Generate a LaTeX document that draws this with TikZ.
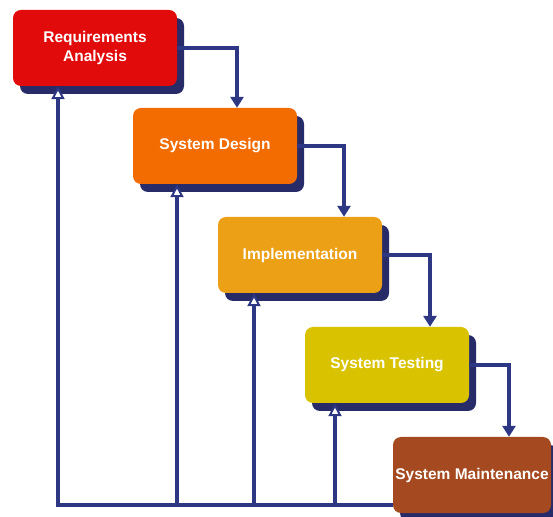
\documentclass[tikz,border=0pt]{standalone}
\usepackage{fontspec}
\setmainfont{Liberation Sans}
\usepackage{tikz}
\usetikzlibrary{arrows.meta, shadows, calc}
\definecolor{linenavy}{HTML}{2E3784}
\definecolor{shadownavy}{HTML}{272B68}
\definecolor{reqred}{HTML}{E20B0B}
\definecolor{desorange}{HTML}{F36C02}
\definecolor{impamber}{HTML}{ECA016}
\definecolor{testyellow}{HTML}{D9C300}
\definecolor{mainbrown}{HTML}{A54A20}
\tikzset{
    phase/.style={
        rectangle, rounded corners=8pt,
        minimum width=164pt, minimum height=76pt, inner sep=0pt,
        text=white, align=center,
        font=\fontsize{15.5}{19.5}\selectfont\bfseries,
        drop shadow={shadow xshift=7pt, shadow yshift=-8pt, fill=shadownavy, opacity=1}
    },
    flow/.style={draw=linenavy, line width=4pt, -{Triangle[length=11pt,width=13pt]}},
    back/.style={draw=linenavy, line width=4pt, -{Triangle[fill=white,line width=2pt,length=13pt,width=13pt]}}
}

\begin{document}
\begin{tikzpicture}[x=1pt,y=1pt]
    \useasboundingbox (0,0) rectangle (553,516);
    \node[phase, fill=reqred] (req) at (95,468) {Requirements\\Analysis};
    \node[phase, fill=desorange] (design) at (215,370) {System Design};
    \node[phase, fill=impamber] (impl) at (300,261) {Implementation};
    \node[phase, fill=testyellow] (test) at (387,151) {System Testing};
    \node[phase, fill=mainbrown, minimum width=158pt] (maint) at (472,41) {System Maintenance};
    \draw[flow] (req.east) -| ([xshift=22pt]design.north);
    \draw[flow] (design.east) -| ([xshift=44pt]impl.north);
    \draw[flow] (impl.east) -| ([xshift=43pt]test.north);
    \draw[flow] (test.east) -| ([xshift=37pt]maint.north);
    \foreach \n/\dx in {req/-37, design/-38, impl/-46, test/-52}
        \coordinate (foot-\n) at ($(\n.south)+(\dx,0)$);
    \coordinate (fb) at (foot-req |- 0,11);
    \draw[back] (fb -| maint.west) -- (fb) -- (foot-req);
    \foreach \n in {design, impl, test}
        \draw[back] (foot-\n |- fb) -- (foot-\n);
\end{tikzpicture}
\end{document}
